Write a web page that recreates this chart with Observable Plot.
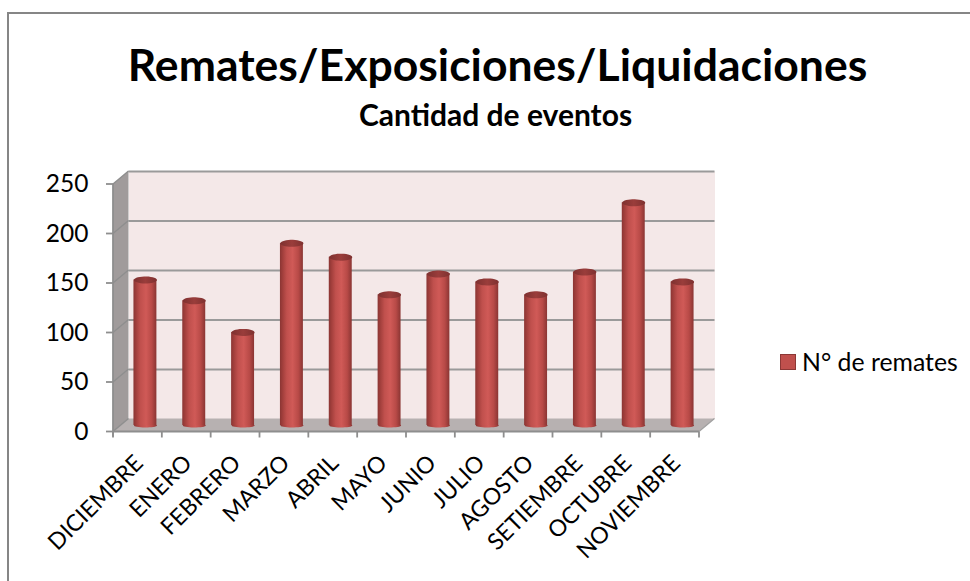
<!DOCTYPE html>
<html lang="es"><head><meta charset="utf-8">
<script src="https://cdn.jsdelivr.net/npm/d3@7"></script>
<script src="https://cdn.jsdelivr.net/npm/@observablehq/plot@0.6"></script>
<style>
html,body{margin:0;padding:0;background:#fff;overflow:hidden}
#page{position:relative;width:970px;height:581px;font-family:Lato,"Open Sans",sans-serif;color:#000}
#page:before{content:"";position:absolute;left:7px;top:12px;right:0;bottom:0;border-left:2px solid #868686;border-top:2px solid #868686}
#title{position:absolute;left:0;width:995px;top:38px;text-align:center;font-size:44.5px;font-weight:700;line-height:52px;white-space:nowrap}
#subtitle{position:absolute;left:0;width:991px;top:99px;text-align:center;font-size:30px;font-weight:700;line-height:30px}
#legend{position:absolute;left:780px;top:348px;font-size:24.8px;line-height:28px;white-space:nowrap;display:flex;align-items:center}
#legend i{display:inline-block;width:14px;height:14px;background:#c0504d;border:1.5px solid #8c3836;margin-right:6px}
#chart{position:absolute;left:0;top:0}
svg text{font-family:Lato,"Open Sans",sans-serif}
</style></head><body>
<div id="page">
<div id="chart"></div>
<div id="title">Remates/Exposiciones/Liquidaciones</div>
<div id="subtitle">Cantidad de eventos</div>
<div id="legend"><i></i>N° de remates</div>
</div>
<script>
const months = ["DICIEMBRE","ENERO","FEBRERO","MARZO","ABRIL","MAYO","JUNIO","JULIO","AGOSTO","SETIEMBRE","OCTUBRE","NOVIEMBRE"];
const remates = [147,126,94,184,170,132,153,145,132,155,225,145];
const yTicks = [0,50,100,150,200,250];
const rows = months.map((m,i)=>({m,v:remates[i]}));

const depthX = 15.5, depthY = -13;      // oblique offset of the back wall
const barDx = 7.5, barDy = -6.5;        // bars stand halfway into the depth
const ellipse = ry => ({draw(ctx,size){
  const rx = Math.sqrt(size);
  ctx.moveTo(rx,0);
  for(let a=0.2;a<6.3;a+=0.2) ctx.lineTo(rx*Math.cos(a),ry*Math.sin(a));
  ctx.closePath();
}});
const capR = 11.5/Math.sqrt(Math.PI);

function scenery(index,{x,y},values,dims){
  const l=dims.marginLeft, r=dims.width-dims.marginRight;
  const t=y(250), b=y(0);
  const g=d3.create("svg:g");
  const defs=g.append("defs");
  const grad=(id,stops)=>{
    const lg=defs.append("linearGradient").attr("id",id);
    stops.forEach(([o,c])=>lg.append("stop").attr("offset",o).attr("stop-color",c));
  };
  grad("cyl",[[0,"#8a3533"],[.12,"#a23f3c"],[.3,"#c0504d"],[.55,"#d05a57"],[.8,"#b84a47"],[1,"#8a3533"]]);
  grad("cap",[[0,"#7e3130"],[.5,"#9a3d3b"],[1,"#7e3130"]]);
  const P=(pts,fill)=>g.append("polygon").attr("points",pts.map(p=>p.join(",")).join(" ")).attr("fill",fill);
  P([[l,t],[l+depthX,t+depthY],[l+depthX,b+depthY],[l,b]],"#a09b9b");
  P([[l,b],[l+depthX,b+depthY],[r+depthX,b+depthY],[r,b]],"#b7b1b1");
  const L=(x1,y1,x2,y2,c="#8e8e8e",w=1.8)=>g.append("line").attr("x1",x1).attr("y1",y1).attr("x2",x2).attr("y2",y2).attr("stroke",c).attr("stroke-width",w);
  for(const v of yTicks){
    L(l,y(v),l+depthX,y(v)+depthY,"#8e8e8e",1.4);
    L(l-7,y(v),l,y(v));
  }
  L(l,t,l,b+5); L(l,b,r,b);
  L(r,b,r+depthX,b+depthY,"#a0a0a0",1.2);
  const step=x.step();
  months.forEach(m=>L(x(m)+x.bandwidth()/2+step/2,b,x(m)+x.bandwidth()/2+step/2,b+6));
  L(l,b,l,b+6);
  return g.node();
}

const plot = Plot.plot({
  width:970, height:581,
  marginLeft:113, marginRight:271, marginTop:184, marginBottom:149.5,
  x:{domain:months, paddingInner:.53, paddingOuter:.265, align:.5, round:false, label:null},
  y:{domain:[0,250], label:null},
  marks:[
    Plot.frame({fill:"#f4e8e8", stroke:null, dx:depthX, dy:depthY}),
    Plot.ruleY(yTicks.slice(1), {stroke:"#9a9a9a", strokeWidth:1.8, strokeOpacity:1, dx:depthX, dy:depthY}),
    scenery,
    Plot.axisY({ticks:yTicks, tickSize:0, tickPadding:25, fontSize:24.5, label:null, color:"#000"}),
    Plot.axisX({tickSize:0, tickPadding:0, tickRotate:-45, textAnchor:"end", fontSize:23, label:null, color:"#000", dx:-5, dy:21, lineAnchor:"top"}),
    Plot.dot(rows,{x:"m", y:()=>0, r:capR, symbol:ellipse(2), fill:"url(#cyl)", dx:barDx, dy:barDy, stroke:null}),
    Plot.barY(rows,{x:"m", y:"v", fill:"url(#cyl)", dx:barDx, dy:barDy}),
    Plot.dot(rows,{x:"m", y:"v", r:capR, symbol:ellipse(3.5), fill:"url(#cap)", dx:barDx, dy:barDy, stroke:null})
  ]
});
plot.style.background="transparent";
document.getElementById("chart").append(plot);
</script>
</body></html>
